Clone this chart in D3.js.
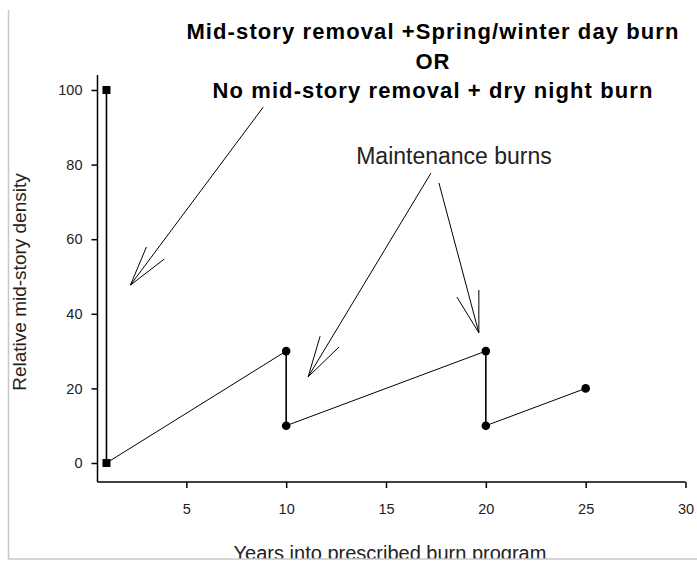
<!DOCTYPE html>
<html>
<head>
<meta charset="utf-8">
<script src="https://cdn.jsdelivr.net/npm/d3@7"></script>
<style>
  body { margin: 0; background: #fff; }
  svg { display: block; }
</style>
</head>
<body>
<div id="chart"></div>
<script>
// Data: relative mid-story density over years of the burn program
const years = [1, 1, 10, 10, 20, 20, 25];
const density = [100, 0, 30, 10, 30, 10, 20];
const xTicks = [5, 10, 15, 20, 25, 30];
const yTicks = [0, 20, 40, 60, 80, 100];

const titleLines = [
    "Mid-story removal +Spring/winter day burn",
    "OR",
    "No mid-story removal + dry night burn"
];

// Arrows in data units: [startX, startY, tipX, tipY, barb1X, barb1Y, barb2X, barb2Y]
const arrows = [
    [8.85, 95.4, 2.2, 47.7, 3.0, 57.9, 3.9, 54.7],
    [17.25, 77.7, 11.1, 23.1, 11.7, 34.0, 12.65, 31.1],
    [17.65, 75.1, 19.65, 34.9, 18.55, 44.5, 19.65, 46.4]
];

const width = 697;
const height = 561;
const font = "Liberation Sans, Arial, sans-serif";

const svg = d3.select("#chart")
    .append("svg")
    .attr("width", width)
    .attr("height", height);

const x = d3.scaleLinear().domain([0, 30]).range([86.5, 685.5]);
const y = d3.scaleLinear().domain([0, 100]).range([463, 90]);

// Axes
const xAxis = svg.append("g")
    .attr("transform", "translate(0,482)")
    .call(d3.axisBottom(x).tickValues(xTicks).tickSize(6).tickPadding(16));
xAxis.select(".domain").attr("d", `M${x(0.55)},0H${x(30)}`);

const yAxis = svg.append("g")
    .attr("transform", "translate(97.5,0)")
    .call(d3.axisLeft(y).tickValues(yTicks).tickSize(6).tickPadding(9));
yAxis.select(".domain").attr("d", `M0,75V482`);

svg.selectAll(".tick text")
    .attr("font-family", font)
    .attr("font-size", "14.5px")
    .attr("fill", "#222");
svg.selectAll(".domain, .tick line").attr("stroke", "#000").attr("stroke-width", 1.5);

// Axis titles
svg.append("text")
    .attr("x", 390)
    .attr("y", 560)
    .attr("text-anchor", "middle")
    .attr("font-family", font)
    .attr("font-size", "20px")
    .attr("fill", "#222")
    .text("Years into prescribed burn program");

svg.append("text")
    .attr("transform", "translate(26,282) rotate(-90)")
    .attr("text-anchor", "middle")
    .attr("font-family", font)
    .attr("font-size", "19px")
    .attr("fill", "#222")
    .text("Relative mid-story density");

// Faint frame at left and bottom
svg.append("line")
    .attr("x1", 8.5).attr("x2", 8.5)
    .attr("y1", 10).attr("y2", 559)
    .attr("stroke", "#c8c8c8").attr("stroke-width", 1.5);
svg.append("rect")
    .attr("x", 0).attr("y", 559)
    .attr("width", width).attr("height", 2)
    .attr("fill", "#fff");
svg.append("line")
    .attr("x1", 8).attr("x2", width)
    .attr("y1", 559).attr("y2", 559)
    .attr("stroke", "#c8c8c8").attr("stroke-width", 1.5);

// Series line: verticals solid and heavier, slopes thin
const pts = years.map((yr, i) => [yr, density[i]]);
for (let i = 0; i < pts.length - 1; i++) {
    const a = pts[i], b = pts[i + 1];
    svg.append("line")
        .attr("x1", x(a[0])).attr("y1", y(a[1]))
        .attr("x2", x(b[0])).attr("y2", y(b[1]))
        .attr("stroke", "#000")
        .attr("stroke-width", a[0] === b[0] ? 1.6 : 1);
}

// Markers
pts.forEach(function(p) {
    if (p[0] === 1) {
        svg.append("rect")
            .attr("x", x(p[0]) - 4).attr("y", y(p[1]) - 4)
            .attr("width", 8).attr("height", 8)
            .attr("fill", "#000");
    } else {
        svg.append("circle")
            .attr("cx", x(p[0])).attr("cy", y(p[1]))
            .attr("r", 4.3)
            .attr("fill", "#000");
    }
});

// Arrows
arrows.forEach(function(a) {
    const tip = [x(a[2]), y(a[3])];
    svg.append("line")
        .attr("x1", x(a[0])).attr("y1", y(a[1]))
        .attr("x2", tip[0]).attr("y2", tip[1])
        .attr("stroke", "#000").attr("stroke-width", 1);
    [[a[4], a[5]], [a[6], a[7]]].forEach(function(b) {
        svg.append("line")
            .attr("x1", x(b[0])).attr("y1", y(b[1]))
            .attr("x2", tip[0]).attr("y2", tip[1])
            .attr("stroke", "#000").attr("stroke-width", 1);
    });
});

// Title block
svg.append("g").selectAll("text")
    .data(titleLines)
    .enter()
    .append("text")
    .attr("x", 433)
    .attr("y", (d, i) => 39 + i * 29.5)
    .attr("text-anchor", "middle")
    .attr("font-family", font)
    .attr("font-weight", "bold")
    .attr("font-size", "22px")
    .attr("letter-spacing", "1.1px")
    .attr("fill", "#000")
    .text(d => d);

svg.append("text")
    .attr("x", 454)
    .attr("y", 164)
    .attr("text-anchor", "middle")
    .attr("font-family", font)
    .attr("font-size", "23px")
    .attr("fill", "#222")
    .text("Maintenance burns");
</script>
</body>
</html>
